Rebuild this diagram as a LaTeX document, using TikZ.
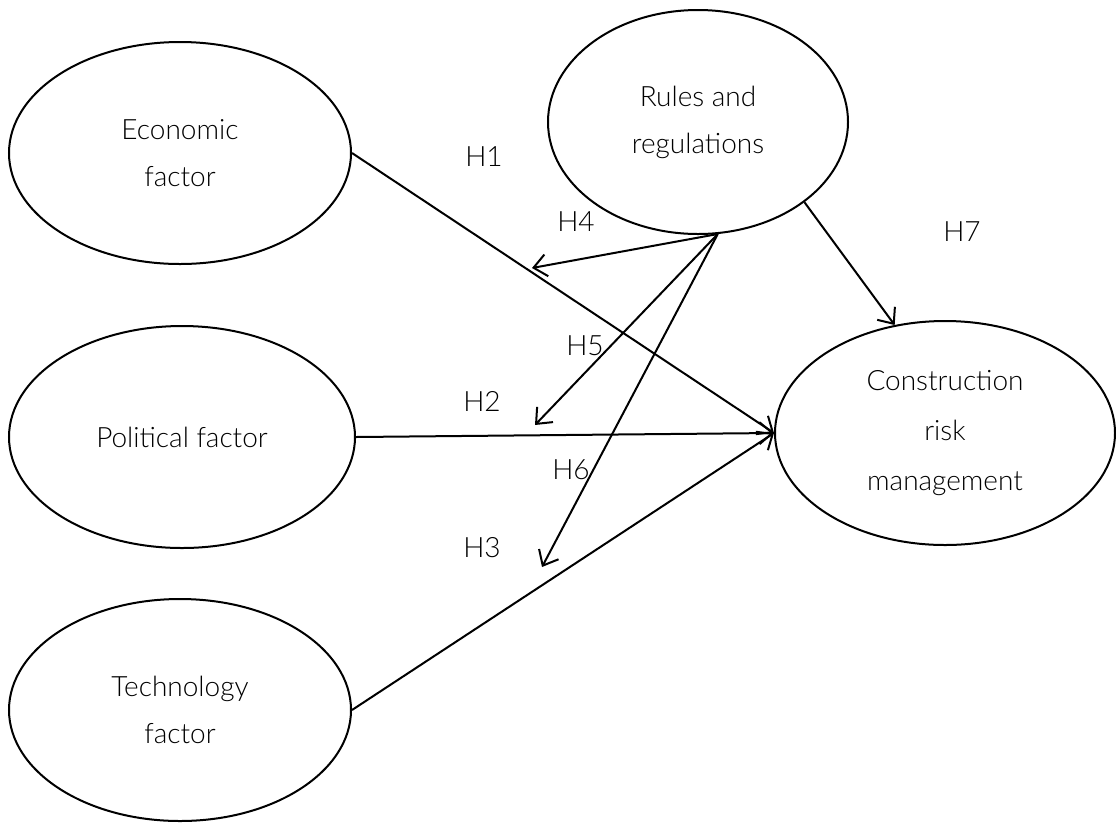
\documentclass[tikz,border=0pt]{standalone}
\usepackage{fontspec}
\setmainfont{Lato}[UprightFont=* Light]
\usetikzlibrary{shapes.geometric,arrows.meta}
\tikzset{
  factor/.style={draw,ellipse,line width=2pt,inner sep=0pt,align=center,
    font=\fontsize{28}{47}\selectfont,minimum width=342pt,minimum height=222pt},
  link/.style={line width=2pt,-{Straight Barb[length=13pt,width=22pt,line width=2pt]}},
  hyp/.style={font=\fontsize{28}{30}\selectfont}
}
\begin{document}
\begin{tikzpicture}[x=1pt,y=-1pt]
      \useasboundingbox (0,0) rectangle (1116,823);

      \node[factor] (eco) at (180,153) {Economic\\factor};
      \node[factor,minimum width=346pt] (pol) at (182,437) {Political factor};
      \node[factor] (tec) at (180,710) {Technology\\factor};
      \node[factor,minimum width=300pt,minimum height=224pt] (rul) at (698,122) {Rules and\\regulations};
      \node[factor,minimum width=340pt,minimum height=224pt,font=\fontsize{28}{50}\selectfont] (con) at (945,433) {Construction\\risk\\management};

      \coordinate (h4end) at (532,268);
      \coordinate (h5end) at (535,425);
      \coordinate (h6end) at (542,567);

      \draw[link] (eco.east) -- (con.west);
      \draw[link] (pol.east) -- (con.west);
      \draw[link] (tec.east) -- (con.west);
      \draw[link] (rul.-80) -- (h4end);
      \draw[link] (rul.-80) -- (h5end);
      \draw[link] (rul.-80) -- (h6end);
      \draw[link] (rul.-37) -- (con.115);

      \node[hyp] (h1) at (484,157) {H1};
      \node[hyp] (h2) at (482,401) {H2};
      \node[hyp] (h3) at (482,548) {H3};
      \node[hyp] (h4) at (576,222) {H4};
      \node[hyp] (h5) at (585,346) {H5};
      \node[hyp] (h6) at (571,470) {H6};
      \node[hyp] (h7) at (962,232) {H7};
   \end{tikzpicture}
\end{document}
